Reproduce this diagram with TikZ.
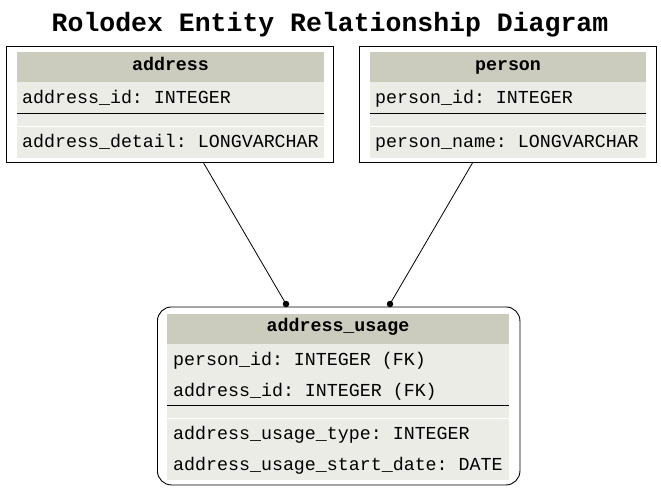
\documentclass[tikz,border=0pt]{standalone}
\usepackage{fontspec}
\setmainfont{Liberation Mono}
\setmonofont{Liberation Mono}
\frenchspacing
\definecolor{hdr}{RGB}{203,204,189}
\definecolor{rowc}{RGB}{235,236,230}
\begin{document}
\begin{tikzpicture}[x=1pt,y=-1pt,
  outerbox/.style={draw=black,line width=0.9pt,fill=white,inner sep=0pt,anchor=north west},
  hdrbox/.style={fill=hdr,inner sep=0pt,anchor=north west},
  rowbox/.style={fill=rowc,inner sep=0pt,anchor=north west},
  hdrtext/.style={font=\fontsize{18.3}{21}\selectfont\bfseries,inner sep=0pt,anchor=base},
  fieldtext/.style={font=\fontsize{18.3}{21}\selectfont,inner sep=0pt,anchor=base west},
  sepline/.style={line width=0.9pt},
  conn/.style={line width=0.8pt},
  dotend/.style={circle,fill=black,inner sep=0pt,minimum size=6.5pt}]
\useasboundingbox (0,0) rectangle (661,491);
\node[font=\fontsize{26.5}{30}\selectfont\bfseries,inner sep=0pt,anchor=base] (title) at (330,31) {Rolodex Entity Relationship Diagram};

% address
\node[outerbox,minimum width=327pt,minimum height=116pt] (address) at (6,46) {};
\node[hdrbox,minimum width=307pt,minimum height=30pt] (addrH) at (17,52) {};
\node[hdrtext] (addrHT) at (170.5,70) {address};
\node[rowbox,minimum width=307pt,minimum height=31pt] (addrR1) at (17,82) {};
\node[fieldtext] (addrT1) at (22,103.5) {address\_id: INTEGER};
\draw[sepline] (17,113) -- (324,113);
\node[rowbox,minimum width=307pt,minimum height=12pt] (addrG) at (17,114) {};
\node[rowbox,minimum width=307pt,minimum height=31pt] (addrR2) at (17,126.5) {};
\node[fieldtext] (addrT2) at (22,147.5) {address\_detail: LONGVARCHAR};

% person
\node[outerbox,minimum width=297pt,minimum height=116pt] (person) at (358.5,46) {};
\node[hdrbox,minimum width=276pt,minimum height=30pt] (perH) at (370,52) {};
\node[hdrtext] (perHT) at (508,70) {person};
\node[rowbox,minimum width=276pt,minimum height=31pt] (perR1) at (370,82) {};
\node[fieldtext] (perT1) at (375,103.5) {person\_id: INTEGER};
\draw[sepline] (370,113) -- (646,113);
\node[rowbox,minimum width=276pt,minimum height=12pt] (perG) at (370,114) {};
\node[rowbox,minimum width=276pt,minimum height=31pt] (perR2) at (370,126.5) {};
\node[fieldtext] (perT2) at (375,147.5) {person\_name: LONGVARCHAR};

% address_usage
\node[outerbox,rounded corners=14pt,minimum width=362.5pt,minimum height=178pt] (usage) at (157,306.5) {};
\node[hdrbox,minimum width=342pt,minimum height=30pt] (usH) at (167,313.5) {};
\node[hdrtext] (usHT) at (338,331.5) {address\_usage};
\node[rowbox,minimum width=342pt,minimum height=30pt] (usR1) at (167,343.5) {};
\node[fieldtext] (usT1) at (173,365) {person\_id: INTEGER (FK)};
\node[rowbox,minimum width=342pt,minimum height=31pt] (usR2) at (167,374) {};
\node[fieldtext] (usT2) at (173,396) {address\_id: INTEGER (FK)};
\draw[sepline] (167,405) -- (509,405);
\node[rowbox,minimum width=342pt,minimum height=12pt] (usG) at (167,406) {};
\node[rowbox,minimum width=342pt,minimum height=30pt] (usR3) at (167,418.5) {};
\node[fieldtext] (usT3) at (173,439.5) {address\_usage\_type: INTEGER};
\node[rowbox,minimum width=342pt,minimum height=31pt] (usR4) at (167,449) {};
\node[fieldtext] (usT4) at (173,470.5) {address\_usage\_start\_date: DATE};

% connectors
\coordinate (a1) at (203,162);
\coordinate (a2) at (286,304);
\coordinate (p1) at (473,162);
\coordinate (p2) at (390,304);
\draw[conn] (a1) -- (a2);
\draw[conn] (p1) -- (p2);
\node[dotend] (ad) at (a2) {};
\node[dotend] (pd) at (p2) {};
\end{tikzpicture}
\end{document}
